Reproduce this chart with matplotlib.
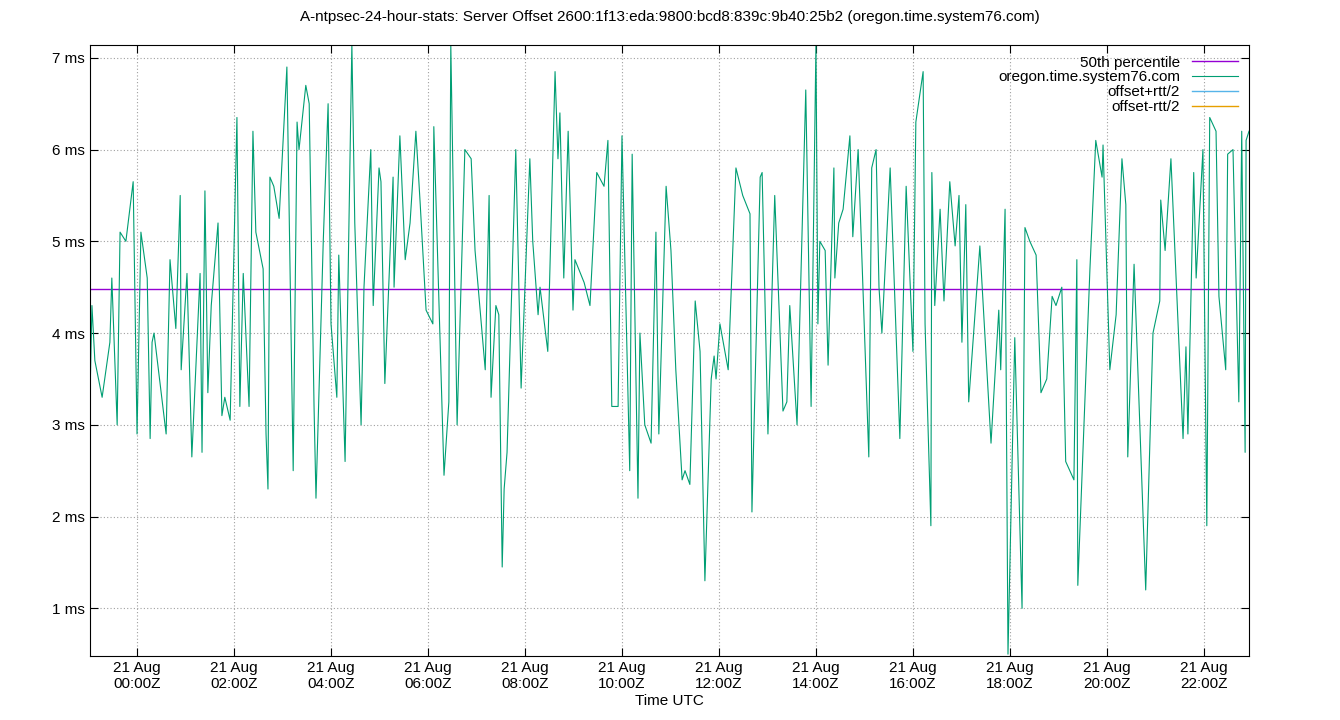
import matplotlib
matplotlib.use("Agg")
import matplotlib.pyplot as plt

plt.rcParams["font.family"] = ["Liberation Sans", "DejaVu Sans"]

# hours relative to 21 Aug 00:00Z
hours = [-0.97, -0.93, -0.87, -0.72, -0.56, -0.52, -0.41, -0.35, -0.23, -0.08,
         0, 0.08, 0.21, 0.27, 0.31, 0.35, 0.60, 0.68, 0.80, 0.89,
         0.91, 1.03, 1.13, 1.30, 1.34, 1.40, 1.46, 1.53, 1.67, 1.75,
         1.81, 1.92, 2.06, 2.12, 2.19, 2.31, 2.39, 2.45, 2.60, 2.66,
         2.70, 2.74, 2.82, 2.93, 3.09, 3.22, 3.30, 3.34, 3.48, 3.55,
         3.65, 3.69, 3.84, 3.94, 4.00, 4.12, 4.16, 4.29, 4.43, 4.49,
         4.62, 4.68, 4.82, 4.87, 4.99, 5.03, 5.11, 5.28, 5.30, 5.42,
         5.53, 5.63, 5.75, 5.84, 5.96, 6.10, 6.12, 6.33, 6.43, 6.47,
         6.60, 6.76, 6.89, 6.97, 7.18, 7.26, 7.30, 7.40, 7.46, 7.53,
         7.57, 7.63, 7.81, 7.92, 8.10, 8.16, 8.27, 8.31, 8.47, 8.62,
         8.68, 8.72, 8.80, 8.89, 8.99, 9.03, 9.22, 9.34, 9.48, 9.63,
         9.71, 9.79, 9.92, 10.00, 10.16, 10.21, 10.33, 10.37, 10.47, 10.60,
         10.70, 10.76, 10.91, 11.01, 11.11, 11.24, 11.30, 11.40, 11.51, 11.61,
         11.71, 11.84, 11.90, 11.94, 12.02, 12.19, 12.35, 12.49, 12.64, 12.68,
         12.85, 12.89, 13.01, 13.15, 13.32, 13.40, 13.46, 13.61, 13.79, 13.90,
         14.00, 14.04, 14.08, 14.19, 14.25, 14.37, 14.39, 14.47, 14.56, 14.70,
         14.76, 14.87, 15.09, 15.15, 15.24, 15.30, 15.36, 15.53, 15.73, 15.86,
         16.00, 16.06, 16.21, 16.25, 16.37, 16.39, 16.45, 16.56, 16.64, 16.76,
         16.87, 16.95, 17.01, 17.09, 17.15, 17.38, 17.61, 17.77, 17.81, 17.90,
         17.96, 18.10, 18.25, 18.31, 18.41, 18.54, 18.64, 18.76, 18.87, 18.95,
         19.07, 19.15, 19.32, 19.38, 19.40, 19.65, 19.77, 19.90, 19.92, 20.06,
         20.19, 20.31, 20.39, 20.43, 20.56, 20.80, 20.95, 21.09, 21.11, 21.20,
         21.32, 21.57, 21.63, 21.67, 21.79, 21.84, 21.98, 22.06, 22.12, 22.25,
         22.31, 22.45, 22.49, 22.60, 22.72, 22.78, 22.85, 22.87, 22.93]

offset_ms = [3.3, 4.3, 3.7, 3.3, 3.9, 4.6, 3.0, 5.1, 5.0, 5.65,
             2.9, 5.1, 4.6, 2.85, 3.9, 4.0, 2.9, 4.8, 4.05, 5.5,
             3.6, 4.65, 2.65, 4.65, 2.7, 5.55, 3.35, 4.3, 5.2, 3.1,
             3.3, 3.05, 6.35, 3.2, 4.65, 3.2, 6.2, 5.1, 4.7, 2.9,
             2.3, 5.7, 5.6, 5.25, 6.9, 2.5, 6.3, 6.0, 6.7, 6.5,
             3.2, 2.2, 5.0, 6.5, 4.1, 3.3, 4.85, 2.6, 7.15, 5.2,
             3.0, 4.5, 6.0, 4.3, 5.8, 5.65, 3.45, 5.7, 4.5, 6.15,
             4.8, 5.2, 6.2, 5.4, 4.25, 4.1, 6.25, 2.45, 3.25, 7.15,
             3.0, 6.0, 5.9, 4.9, 3.6, 5.5, 3.3, 4.3, 4.2, 1.45,
             2.3, 2.7, 6.0, 3.4, 5.9, 5.0, 4.2, 4.5, 3.8, 6.85,
             5.9, 6.4, 4.6, 6.2, 4.25, 4.8, 4.55, 4.3, 5.75, 5.6,
             6.1, 3.2, 3.2, 6.15, 2.5, 5.95, 2.2, 4.0, 3.0, 2.8,
             5.1, 2.9, 5.6, 4.9, 3.6, 2.4, 2.5, 2.35, 4.35, 3.8,
             1.3, 3.5, 3.75, 3.5, 4.1, 3.6, 5.8, 5.5, 5.3, 2.05,
             5.7, 5.75, 2.9, 5.5, 3.15, 3.25, 4.3, 3.0, 6.65, 3.2,
             7.15, 4.1, 5.0, 4.9, 3.65, 5.8, 4.6, 5.2, 5.35, 6.15,
             5.05, 6.0, 2.65, 5.8, 6.0, 4.5, 4.0, 5.8, 2.85, 5.6,
             3.8, 6.3, 6.85, 4.1, 1.9, 5.75, 4.3, 5.35, 4.35, 5.65,
             4.95, 5.5, 3.9, 5.4, 3.25, 4.95, 2.8, 4.25, 3.6, 5.35,
             0.5, 3.95, 1.0, 5.15, 5.0, 4.85, 3.35, 3.5, 4.4, 4.3,
             4.5, 2.6, 2.4, 4.8, 1.25, 4.7, 6.1, 5.7, 6.05, 3.6,
             4.2, 5.9, 5.4, 2.65, 4.75, 1.2, 4.0, 4.35, 5.45, 4.9,
             5.9, 2.85, 3.85, 2.9, 5.75, 4.6, 6.0, 1.9, 6.35, 6.2,
             4.4, 3.6, 5.95, 6.0, 3.25, 6.2, 2.7, 6.1, 6.2]

median_ms = 4.48
tick_hours = list(range(0, 23, 2))
tick_labels = [f"21 Aug\n{h:02d}:00Z" for h in tick_hours]
ytick_vals = [1, 2, 3, 4, 5, 6, 7]

fig = plt.figure(figsize=(13.4, 7.2), dpi=100)
ax = fig.add_axes([90 / 1340, 64 / 720, 1159 / 1340, 611 / 720])

ax.axhline(median_ms, color="#9400d3", lw=1, label="50th percentile")
ax.plot(hours, offset_ms, color="#009e73", lw=0.8, label="oregon.time.system76.com")
ax.plot([], [], color="#56b4e9", lw=1, label="offset+rtt/2")
ax.plot([], [], color="#e69f00", lw=1, label="offset-rtt/2")

ax.set_xlim(-0.97, 22.93)
ax.set_ylim(0.48, 7.14)
ax.set_xticks(tick_hours)
ax.set_xticklabels(tick_labels, fontsize=11)
ax.set_yticks(ytick_vals)
ax.set_yticklabels([f"{v} ms" for v in ytick_vals], fontsize=11)
ax.grid(True, color="#a0a0a0", linestyle=(0, (1, 2)), lw=0.8)
ax.tick_params(direction="in", top=True, right=True, length=6)
ax.set_xlabel("Time UTC", fontsize=11, labelpad=2)
ax.set_title("A-ntpsec-24-hour-stats: Server Offset 2600:1f13:eda:9800:bcd8:839c:9b40:25b2 "
             "(oregon.time.system76.com)", fontsize=11, pad=17)

leg = ax.legend(loc="upper right", frameon=False, markerfirst=False, fontsize=11,
                handlelength=3, labelspacing=0.05, borderaxespad=0.3)
for t in leg.get_texts():
    t.set_ha("right")
leg.set_alignment("right")

fig.savefig("out.png", dpi=100)
